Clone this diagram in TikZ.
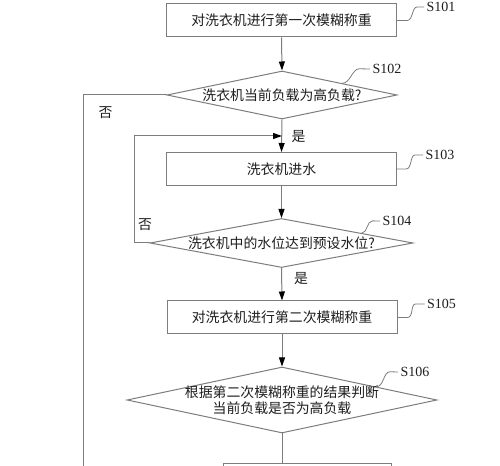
\documentclass[tikz,border=0pt]{standalone}
\usepackage{fontspec}
\setmainfont{Liberation Serif}
\newfontfamily\cjk{Noto Sans CJK SC}
\usetikzlibrary{shapes.geometric,arrows.meta}
\definecolor{linegray}{RGB}{125,125,125}
\definecolor{inkgray}{RGB}{30,30,30}
\tikzset{every picture/.style={line width=0.75pt}}
\tikzset{
  procbox/.style={draw=linegray, rectangle, minimum width=172.5pt, minimum height=24.75pt, inner sep=0pt, font=\cjk\fontsize{10.4}{12}\selectfont, text=inkgray},
  decision/.style={draw=linegray, diamond, inner sep=0pt},
  dtext/.style={font=\cjk\fontsize{10.4}{12}\selectfont, text=inkgray, align=center, inner sep=0pt},
  steplabel/.style={anchor=west, inner sep=1.5pt, font=\fontsize{10.5}{12}\selectfont, text=inkgray},
  yesno/.style={font=\cjk\fontsize{10.4}{12}\selectfont, text=inkgray, inner sep=0pt},
  flow/.style={draw=linegray, -{Triangle[length=6.75pt,width=4.5pt,color=black]}},
  link/.style={draw=linegray},
  tag/.style={draw=linegray, line width=0.6pt},
}

\begin{document}
\begin{tikzpicture}[x=0.75pt,y=0.75pt,yscale=-1,xscale=1]
	\clip (0,0) rectangle (500,466);
	\fill[white] (0,0) rectangle (500,466);

	%Shape: Rectangle [S101]
	\node[procbox] (s101) at (281.5,20.5) {对洗衣机进行第一次模糊称重};
	%Shape: Diamond [S102]
	\node[decision, minimum width=172.5pt, minimum height=36pt, label={[dtext]center:洗衣机当前负载为高负载?}] (s102) at (282,95) {};
	%Shape: Rectangle [S103]
	\node[procbox] (s103) at (281.5,169) {洗衣机进水};
	%Shape: Diamond [S104]
	\node[decision, minimum width=197.25pt, minimum height=36.75pt, label={[dtext]center:洗衣机中的水位达到预设水位?}] (s104) at (281.5,243) {};
	%Shape: Rectangle [S105]
	\node[procbox] (s105) at (282,317.5) {对洗衣机进行第二次模糊称重};
	%Shape: Diamond [S106]
	\node[decision, minimum width=232.5pt, minimum height=49.5pt, label={[dtext]center:{根据第二次模糊称重的结果判断\\当前负载是否为高负载}}] (s106) at (282,400) {};
	%Shape: Rectangle [next step, cut off]
	\node[procbox, minimum width=126pt] (s107) at (307,480.5) {};

	%Straight Lines [main flow]
	\draw[flow] (s101.south) -- (s102.north);
	\draw[flow] (s102.south) -- (s103.north);
	\draw[flow] (s103.south) -- (s104.north);
	\draw[flow] (s104.south) -- (s105.north);
	\draw[flow] (s105.south) -- (s106.north);
	\draw[link] (s106.south) -- (s106.south |- s107.north);

	%Straight Lines [no branches]
	\coordinate (leftdown) at (83.5,480);
	\draw[link] (s102.west) -| (leftdown);
	\coordinate (refill) at (282,136);
	\draw[flow] (s104.west) -- ++(-15,0) |- (refill);

	% Text Node
	\node[yesno] (no1) at (105.5,112.5) {否};
	% Text Node
	\node[yesno] (yes1) at (298.5,136.5) {是};
	% Text Node
	\node[yesno] (no2) at (145,225) {否};
	% Text Node
	\node[yesno] (yes2) at (301,279) {是};

	% Step labels
	\node[steplabel] (t101) at (424,7) {S101};
	\node[steplabel] (t102) at (370,69) {S102};
	\node[steplabel] (t103) at (423,155) {S103};
	\node[steplabel] (t104) at (380,221) {S104};
	\node[steplabel] (t105) at (424.5,304) {S105};
	\node[steplabel] (t106) at (398,372) {S106};

	%Curve Lines [leaders]
	\draw[tag] (s101.east) -- ++(10,0) .. controls +(6,0) and +(-5,0) .. ++(10,-13.5) -- (t101.west);
	\draw[tag] (s102.11) .. controls +(8,0) and +(-7,0) .. ++(17,-14.5) -- (t102.west);
	\draw[tag] (s103.east) -- ++(9,0) .. controls +(6,0) and +(-5,0) .. ++(9,-14) -- (t103.west);
	\draw[tag] (s104.7) .. controls +(6,0) and +(-6,0) .. ++(11,-12.3) -- (t104.west);
	\draw[tag] (s105.east) -- ++(10,0) .. controls +(6,0) and +(-5,0) .. ++(8,-13.5) -- (t105.west);
	\draw[tag] (s106.8) .. controls +(8,0) and +(-7,0) .. ++(14,-15) -- (t106.west);

\end{tikzpicture}
\end{document}
